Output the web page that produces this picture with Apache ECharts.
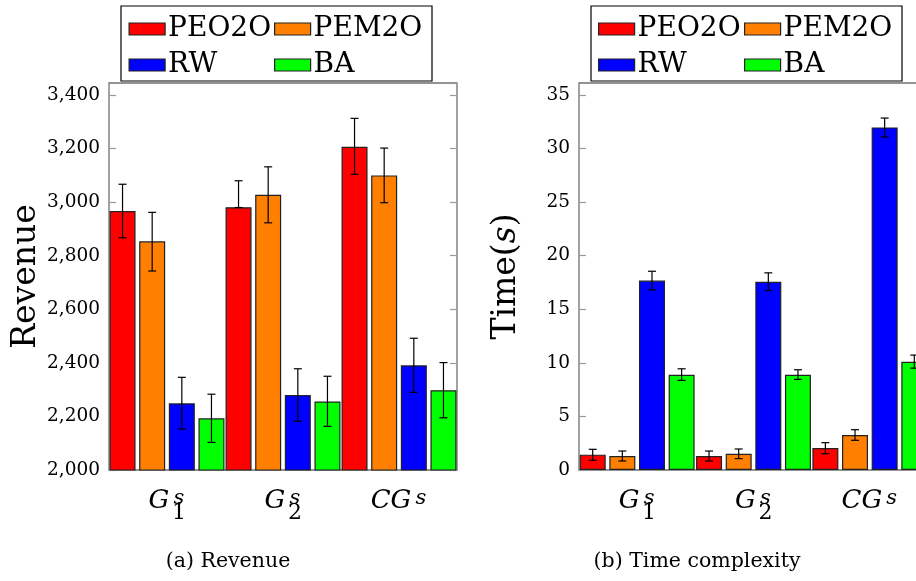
<!DOCTYPE html>
<html>
<head>
<meta charset="utf-8">
<script src="https://cdn.jsdelivr.net/npm/echarts@6/dist/echarts.min.js"></script>
<style>
  html, body { margin: 0; padding: 0; background: #fff; }
  #chart { width: 916px; height: 581px; }
</style>
</head>
<body>
<div id="chart"></div>
<script>
// categories: base letter(s), subscript, superscript
const categories = ['G1', 'G2', 'CG'];
const catBase = ['G', 'G', 'CG'];
const catSub = ['1', '2', ''];
const catSup = ['s', 's', 's'];

const seriesNames = ['PEO2O', 'PEM2O', 'RW', 'BA'];

// (a) Revenue
const revPEO2O = [2967, 2981, 3207];
const revPEM2O = [2854, 3028, 3100];
const revRW = [2249, 2280, 2391];
const revBA = [2193, 2256, 2298];
// error bars [low, high]
const revErrPEO2O = [[2867, 3067], [2980, 3080], [3104, 3313]];
const revErrPEM2O = [[2743, 2962], [2923, 3132], [2998, 3202]];
const revErrRW = [[2153, 2346], [2182, 2378], [2290, 2492]];
const revErrBA = [[2103, 2283], [2163, 2350], [2195, 2401]];

// (b) Time complexity
const timePEO2O = [1.43, 1.31, 2.05];
const timePEM2O = [1.31, 1.52, 3.26];
const timeRW = [17.67, 17.55, 31.96];
const timeBA = [8.88, 8.88, 10.10];
const timeErrPEO2O = [[0.90, 1.93], [0.84, 1.77], [1.52, 2.55]];
const timeErrPEM2O = [[0.84, 1.77], [1.06, 1.96], [2.77, 3.76]];
const timeErrRW = [[16.80, 18.54], [16.74, 18.39], [31.06, 32.83]];
const timeErrBA = [[8.36, 9.44], [8.45, 9.35], [9.50, 10.72]];

const revValues = [revPEO2O, revPEM2O, revRW, revBA];
const revErrors = [revErrPEO2O, revErrPEM2O, revErrRW, revErrBA];
const timeValues = [timePEO2O, timePEM2O, timeRW, timeBA];
const timeErrors = [timeErrPEO2O, timeErrPEM2O, timeErrRW, timeErrBA];

const colors = ['#ff0000', '#ff8000', '#0000ff', '#00ff00'];
const FONT = '"DejaVu Serif", "Liberation Serif", serif';
const BAR_WIDTH = 26;
const BAR_GAP = 0.14;

const chartDom = document.getElementById('chart');
const chart = echarts.init(chartDom, null, { renderer: 'canvas' });

// error bar drawn on top of each bar
function errorBarRender(offset) {
  return function (params, api) {
    const c = api.value(0);
    const lo = api.coord([c, api.value(1)]);
    const hi = api.coord([c, api.value(2)]);
    const x = lo[0] + offset;
    const hw = 4;
    const style = { stroke: '#000', lineWidth: 1.2 };
    return {
      type: 'group',
      children: [
        { type: 'line', shape: { x1: x, y1: hi[1], x2: x, y2: lo[1] }, style: style },
        { type: 'line', shape: { x1: x - hw, y1: hi[1], x2: x + hw, y2: hi[1] }, style: style },
        { type: 'line', shape: { x1: x - hw, y1: lo[1], x2: x + hw, y2: lo[1] }, style: style }
      ]
    };
  };
}

const gridRects = [
  { left: 109, top: 83, width: 348, height: 387 },
  { left: 579, top: 83, width: 349, height: 387 }
];

const grids = [];
gridRects.forEach((r) => {
  grids.push(Object.assign({
    show: true,
    borderColor: '#707070',
    borderWidth: 1.3,
    backgroundColor: 'transparent',
    containLabel: false,
    outerBoundsMode: 'none'
  }, r));
});
// invisible twin grids for the subscript labels
gridRects.forEach((r) => {
  grids.push(Object.assign({ show: false, containLabel: false, outerBoundsMode: 'none' }, r));
});

const labelRich = {
  g: { fontFamily: FONT, fontStyle: 'italic', fontSize: 26, lineHeight: 22, verticalAlign: 'top', color: '#000' },
  sup: { fontFamily: FONT, fontStyle: 'italic', fontSize: 21, lineHeight: 16, verticalAlign: 'top', width: 13, padding: [0, 0, 0, 3], color: '#000' }
};
const subRich = {
  g: { fontFamily: FONT, fontStyle: 'italic', fontSize: 26, lineHeight: 22, verticalAlign: 'top', color: 'rgba(0,0,0,0)' },
  sub: { fontFamily: FONT, fontSize: 22, lineHeight: 50, width: 13, padding: [0, 0, 0, 3], color: '#000' }
};

function mainXAxis(gridIndex) {
  return {
    type: 'category',
    gridIndex: gridIndex,
    data: categories,
    axisLine: { show: false },
    axisTick: { show: false },
    splitLine: { show: false },
    axisLabel: {
      margin: 18,
      interval: 0,
      formatter: (v, i) => `{g|${catBase[i]}}{sup|${catSup[i]}}`,
      rich: labelRich
    }
  };
}
function subXAxis(gridIndex) {
  return {
    type: 'category',
    gridIndex: gridIndex,
    data: categories,
    axisLine: { show: false },
    axisTick: { show: false },
    splitLine: { show: false },
    axisLabel: {
      margin: 18,
      interval: 0,
      formatter: (v, i) => (catSub[i] ? `{g|${catBase[i]}}{sub|${catSub[i]}}` : ''),
      rich: subRich
    }
  };
}

function valueAxis(gridIndex, position, min, max, interval, opts) {
  return Object.assign({
    type: 'value',
    gridIndex: gridIndex,
    position: position,
    min: min,
    max: max,
    interval: interval,
    axisLine: { show: false },
    axisTick: { show: true, inside: true, length: 7, lineStyle: { color: '#999', width: 1.2 } },
    splitLine: { show: false },
    axisLabel: { show: false }
  }, opts || {});
}

const xAxes = [mainXAxis(0), mainXAxis(1), subXAxis(2), subXAxis(3)];

const yAxes = [
  valueAxis(0, 'left', 2000, 3445, 200, {
    name: 'Revenue',
    nameLocation: 'middle',
    nameGap: 64,
    nameTextStyle: { fontFamily: FONT, fontSize: 33, color: '#000' },
    axisLabel: {
      show: true, margin: 9, showMaxLabel: false,
      fontFamily: FONT, fontSize: 18.5, color: '#000',
      formatter: (v) => v.toLocaleString('en-US')
    }
  }),
  valueAxis(0, 'right', 2000, 3445, 200),
  valueAxis(1, 'left', 0, 36.1, 5, {
    name: 'Time({i|s})',
    nameLocation: 'middle',
    nameGap: 56,
    nameTextStyle: {
      fontFamily: FONT, fontSize: 33, color: '#000',
      rich: { i: { fontFamily: FONT, fontSize: 33, fontStyle: 'italic', color: '#000' } }
    },
    axisLabel: {
      show: true, margin: 9, showMaxLabel: false,
      fontFamily: FONT, fontSize: 18.5, color: '#000'
    }
  }),
  valueAxis(1, 'right', 0, 36.1, 5),
  { type: 'value', gridIndex: 2, show: false, min: 0, max: 1 },
  { type: 'value', gridIndex: 3, show: false, min: 0, max: 1 }
];

const series = [];
const pitch = BAR_WIDTH * (1 + BAR_GAP);
[[revValues, revErrors], [timeValues, timeErrors]].forEach(([vals, errs], gi) => {
  const yIdx = gi * 2;
  seriesNames.forEach((name, si) => {
    series.push({
      name: name,
      type: 'bar',
      xAxisIndex: gi,
      yAxisIndex: yIdx,
      barWidth: BAR_WIDTH,
      barGap: (BAR_GAP * 100) + '%',
      data: vals[si],
      itemStyle: { color: colors[si], borderColor: '#222', borderWidth: 1.2 },
      emphasis: { disabled: true },
      z: 2
    });
  });
  seriesNames.forEach((name, si) => {
    series.push({
      type: 'custom',
      xAxisIndex: gi,
      yAxisIndex: yIdx,
      renderItem: errorBarRender((si - 1.5) * pitch),
      encode: { x: 0, y: [1, 2] },
      data: errs[si].map((e, i) => [i, e[0], e[1]]),
      z: 5,
      silent: true
    });
  });
});

function legend(left, names) {
  return {
    orient: 'vertical',
    left: left,
    top: 14,
    padding: 0,
    itemGap: 6,
    itemWidth: 36,
    itemHeight: 12,
    icon: 'rect',
    data: names,
    selectedMode: false,
    itemStyle: { borderColor: '#222', borderWidth: 1.2 },
    textStyle: { fontFamily: FONT, fontSize: 28, lineHeight: 30, color: '#000', padding: [0, 0, 0, -2] }
  };
}

const option = {
  animation: false,
  backgroundColor: '#fff',
  textStyle: { fontFamily: FONT },
  legend: [
    legend(128.5, ['PEO2O', 'RW']),
    legend(274, ['PEM2O', 'BA']),
    legend(598, ['PEO2O', 'RW']),
    legend(744, ['PEM2O', 'BA'])
  ],
  grid: grids,
  xAxis: xAxes,
  yAxis: yAxes,
  series: series,
  graphic: [
    { type: 'rect', shape: { x: 121, y: 6, width: 311, height: 75 }, style: { fill: 'none', stroke: '#000', lineWidth: 1.2 }, z: 0 },
    { type: 'rect', shape: { x: 591, y: 6, width: 311, height: 75 }, style: { fill: 'none', stroke: '#000', lineWidth: 1.2 }, z: 0 },
    { type: 'text', x: 228, y: 562, style: { text: '(a) Revenue', font: '20.5px ' + FONT, fill: '#000', align: 'center', verticalAlign: 'middle' } },
    { type: 'text', x: 697, y: 562, style: { text: '(b) Time complexity', font: '20.5px ' + FONT, fill: '#000', align: 'center', verticalAlign: 'middle' } }
  ]
};

chart.setOption(option);
window.addEventListener('resize', () => chart.resize());
</script>
</body>
</html>
